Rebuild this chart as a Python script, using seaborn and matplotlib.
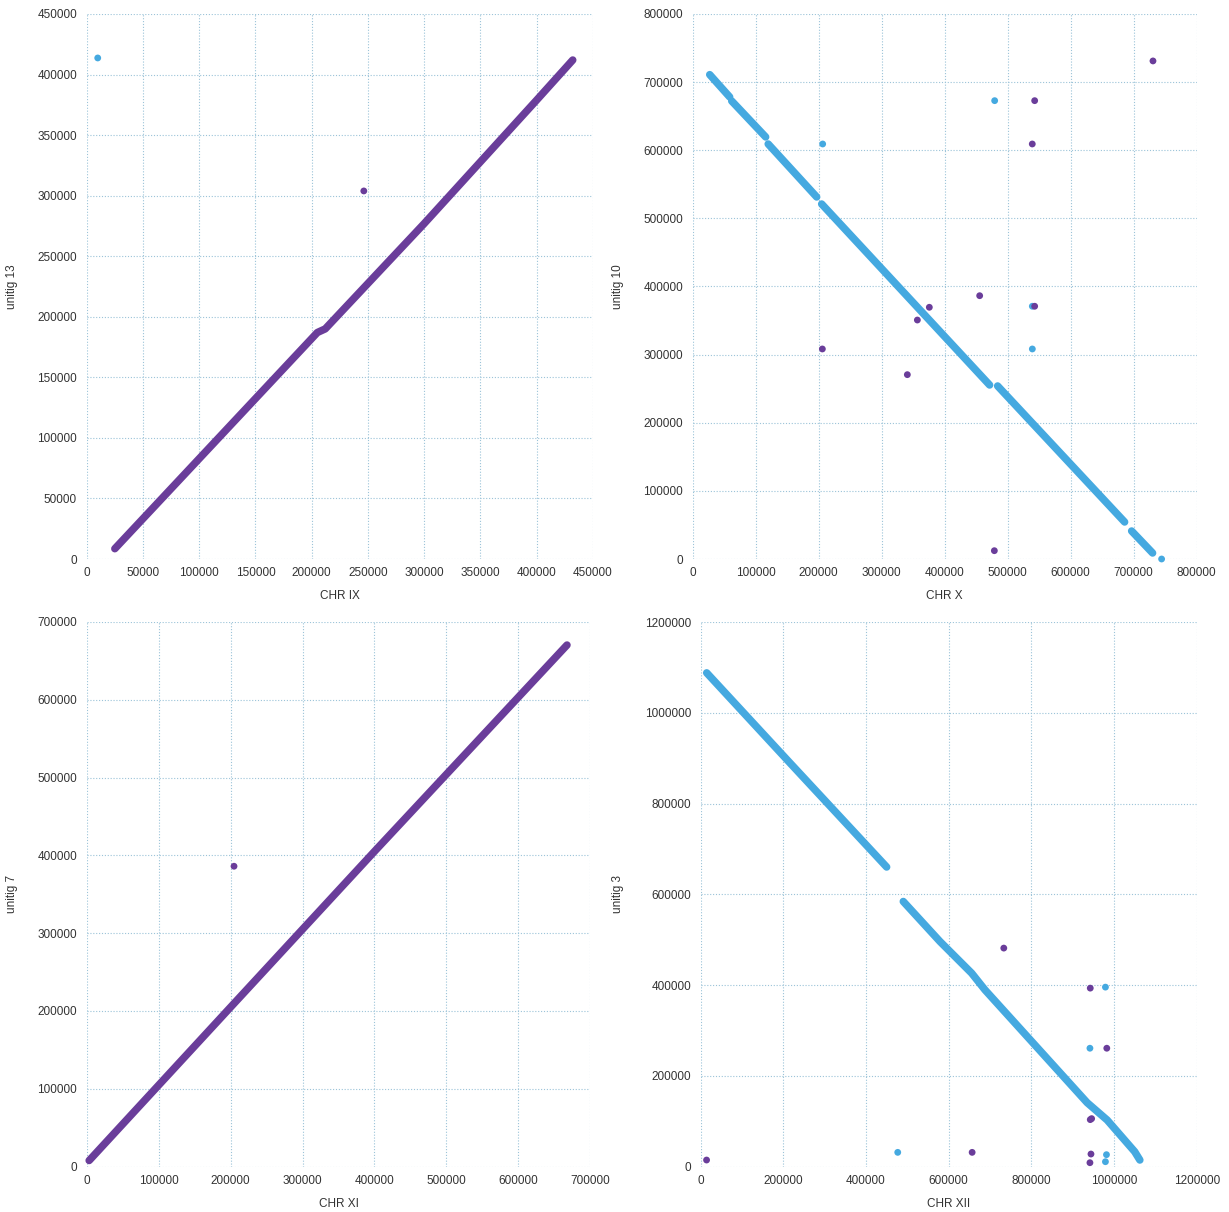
import numpy as np
import pandas as pd
import matplotlib
matplotlib.use("Agg")
import matplotlib.pyplot as plt
import seaborn as sns

# ------------------------------------------------------------
#  dot plots: chromosome vs unitig alignments
#  purple = forward hits, blue = reverse-complement hits
# ------------------------------------------------------------

PURPLE = "#6a3d9a"
BLUE = "#45a9e0"
palette = {"fwd": PURPLE, "rev": BLUE}

# --- CHR IX vs unitig 13 ---
ix_line_x   = [25000, 205000, 212000, 300000, 400000, 432000]
ix_line_y   = [8500, 187000, 190000, 277000, 379000, 412000]
ix_line_seg = [1, 1, 1, 1, 1, 1]
ix_line_str = "fwd"
ix_pts_x    = [9800, 246300]
ix_pts_y    = [413700, 303900]
ix_pts_str  = ["rev", "fwd"]

# --- CHR X vs unitig 10 ---
x_line_x   = [27000, 58700, 61900, 115800, 119800, 196800, 204700, 471300,
              484000, 685600, 696700, 730000]
x_line_y   = [711000, 678200, 672300, 619500, 609200, 531400, 521100, 255400,
              254000, 54300, 41100, 8800]
x_line_seg = [1, 1, 2, 2, 3, 3, 4, 4, 5, 5, 6, 6]
x_line_str = "rev"
x_pts_x    = [744300, 206300, 479300, 539100, 539100, 542800, 539000, 542800,
              730600, 455500, 375600, 356600, 340700, 205800, 478800]
x_pts_y    = [0, 609200, 672800, 371000, 308300, 371000, 609200, 672800,
              731100, 386500, 369500, 350800, 270600, 308300, 12200]
x_pts_str  = ["rev", "rev", "rev", "rev", "rev", "fwd", "fwd", "fwd",
              "fwd", "fwd", "fwd", "fwd", "fwd", "fwd", "fwd"]

# --- CHR XI vs unitig 7 ---
xi_line_x   = [3000, 200000, 400000, 668000]
xi_line_y   = [7700, 205000, 405000, 670400]
xi_line_seg = [1, 1, 1, 1]
xi_line_str = "fwd"
xi_pts_x    = [204600]
xi_pts_y    = [386000]
xi_pts_str  = ["fwd"]

# --- CHR XII vs unitig 3 ---
xii_line_x   = [14500, 216000, 449900,
                490100, 578900, 655500, 687700, 935000, 983300, 1050000, 1062500]
xii_line_y   = [1088000, 889500, 660200,
                584300, 496100, 426400, 389600, 141000, 102900, 33100, 14700]
xii_line_seg = [1, 1, 1, 2, 2, 2, 2, 2, 2, 2, 2]
xii_line_str = "rev"
xii_pts_x    = [14200, 476700, 656700, 733300, 942500, 979200, 941700, 982500,
                942500, 945800, 944200, 941700, 981700, 979200]
xii_pts_y    = [14700, 31600, 31600, 481600, 393400, 395600, 261000, 261000,
                103700, 105900, 27900, 8800, 26500, 11000]
xii_pts_str  = ["fwd", "rev", "fwd", "fwd", "fwd", "rev", "rev", "fwd",
                "fwd", "fwd", "fwd", "fwd", "rev", "rev"]

panels = [
    # (xlabel, ylabel, line data, points, max, step, axes rect in px)
    ("CHR IX", "unitig 13", (ix_line_x, ix_line_y, ix_line_seg, ix_line_str),
     (ix_pts_x, ix_pts_y, ix_pts_str), 450000, 50000, (86.7, 14, 593, 559)),
    ("CHR X", "unitig 10", (x_line_x, x_line_y, x_line_seg, x_line_str),
     (x_pts_x, x_pts_y, x_pts_str), 800000, 100000, (692.7, 14, 1196.7, 559)),
    ("CHR XI", "unitig 7", (xi_line_x, xi_line_y, xi_line_seg, xi_line_str),
     (xi_pts_x, xi_pts_y, xi_pts_str), 700000, 100000, (87, 622, 590, 1166.5)),
    ("CHR XII", "unitig 3", (xii_line_x, xii_line_y, xii_line_seg, xii_line_str),
     (xii_pts_x, xii_pts_y, xii_pts_str), 1200000, 200000, (700.7, 622, 1196.7, 1166.7)),
]

sns.set_theme(style="white")
plt.rcParams["font.family"] = ["Liberation Sans", "DejaVu Sans"]

W, H = 1229, 1212
fig = plt.figure(figsize=(W / 100, H / 100), dpi=100)

for xlab, ylab, line, pts, vmax, step, (l, t, r, b) in panels:
    ax = fig.add_axes([l / W, 1 - b / H, (r - l) / W, (b - t) / H])

    lx, ly, lseg, lstr = line
    df_line = pd.DataFrame({"x": lx, "y": ly, "seg": lseg, "strand": lstr})
    sns.lineplot(data=df_line, x="x", y="y", units="seg", estimator=None,
                 hue="strand", palette=palette, linewidth=5.4,
                 solid_capstyle="round", solid_joinstyle="round", sort=False,
                 legend=False, ax=ax, clip_on=False, zorder=3)

    px, py, pstr = pts
    df_pts = pd.DataFrame({"x": px, "y": py, "strand": pstr})
    sns.scatterplot(data=df_pts, x="x", y="y", hue="strand", palette=palette,
                    s=24, edgecolor="none", legend=False, ax=ax,
                    clip_on=False, zorder=4)

    ticks = np.arange(0, vmax + 1, step)
    ax.set_xlim(0, vmax)
    ax.set_ylim(0, vmax)
    ax.set_xticks(ticks)
    ax.set_yticks(ticks)
    ax.set_xticklabels([str(v) for v in ticks])
    ax.set_yticklabels([str(v) for v in ticks])
    ax.tick_params(axis="both", length=0, labelsize=8.5, colors="#333333")
    ax.tick_params(axis="x", pad=6)
    ax.tick_params(axis="y", pad=7)

    ax.grid(True, color="#9bc3d8", linestyle=(0, (1, 1.6)), linewidth=0.8)
    ax.set_axisbelow(True)
    for sp in ax.spines.values():
        sp.set_visible(False)

    ax.set_xlabel(xlab, fontsize=8.5, color="#333333")
    ax.set_ylabel(ylab, fontsize=8.5, color="#333333")
    ax.xaxis.set_label_coords(0.5, -0.057)
    ax.yaxis.set_label_coords(-(l - 18) / (r - l) if l < 400 else -(l - 624) / (r - l), 0.5)

fig.savefig("out.png", dpi=100, facecolor="white")
